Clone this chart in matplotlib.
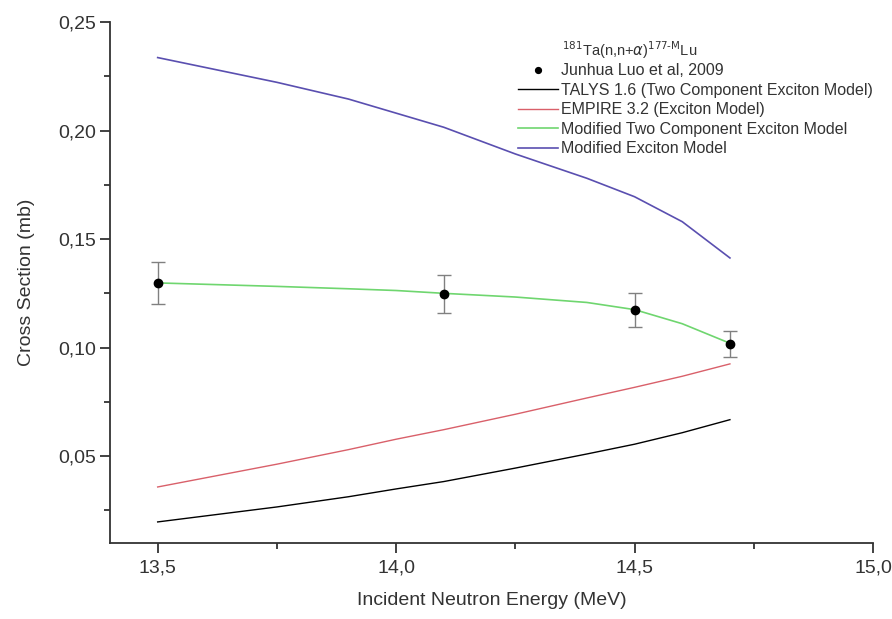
import matplotlib
matplotlib.use("Agg")
import matplotlib.pyplot as plt
from matplotlib.ticker import MultipleLocator, FuncFormatter

plt.rcParams['font.family'] = ['Liberation Sans', 'DejaVu Sans']

# Experimental data
exp_E = [13.5, 14.1, 14.5, 14.7]
exp_xs = [0.1298, 0.1248, 0.1175, 0.1016]
exp_err = [0.0098, 0.0088, 0.0078, 0.0060]

# Model curves
E_model = [13.5, 13.75, 13.9, 14.0, 14.1, 14.25, 14.4, 14.5, 14.6, 14.7]
talys = [0.0197, 0.0266, 0.0313, 0.0349, 0.0383, 0.0445, 0.0510, 0.0555, 0.0608, 0.0668]
empire = [0.0358, 0.0463, 0.0530, 0.0578, 0.0622, 0.0693, 0.0768, 0.0817, 0.0868, 0.0925]
mod_two = [0.1298, 0.1282, 0.1271, 0.1263, 0.1250, 0.1233, 0.1208, 0.1175, 0.1110, 0.1020]
mod_exc = [0.2336, 0.2222, 0.2145, 0.2080, 0.2015, 0.1892, 0.1780, 0.1695, 0.1580, 0.1413]

fig = plt.figure(figsize=(8.92, 6.19), dpi=100)
ax = fig.add_axes([0.1233, 0.1228, 0.8554, 0.8417])

ax.plot(E_model, talys, color='black', lw=1.0, label='TALYS 1.6 (Two Component Exciton Model)')
ax.plot(E_model, empire, color='#d9606a', lw=1.0, label='EMPIRE 3.2 (Exciton Model)')
ax.plot(E_model, mod_two, color='#6fd66f', lw=1.2, label='Modified Two Component Exciton Model')
ax.plot(E_model, mod_exc, color='#5a4fb0', lw=1.2, label='Modified Exciton Model')
ax.errorbar(exp_E, exp_xs, yerr=exp_err, fmt='none', ecolor='#808080', elinewidth=1.0, capsize=5, capthick=1.0)
ax.plot(exp_E, exp_xs, 'o', color='black', ms=6, label='Junhua Luo et al, 2009')

ax.set_xlim(13.4, 15.0)
ax.set_ylim(0.01, 0.25)
ax.xaxis.set_major_locator(MultipleLocator(0.5))
ax.xaxis.set_minor_locator(MultipleLocator(0.25))
ax.yaxis.set_major_locator(MultipleLocator(0.05))
ax.yaxis.set_minor_locator(MultipleLocator(0.025))
ax.xaxis.set_major_formatter(FuncFormatter(lambda v, p: f"{v:.1f}".replace('.', ',')))
ax.yaxis.set_major_formatter(FuncFormatter(lambda v, p: f"{v:.2f}".replace('.', ',')))
for s in ['top', 'right']:
    ax.spines[s].set_visible(False)
for s in ['left', 'bottom']:
    ax.spines[s].set_color('#333333')
    ax.spines[s].set_linewidth(1.3)
ax.tick_params(which='major', direction='out', length=7, width=1.3, labelsize=14, colors='#333333')
ax.tick_params(axis='x', which='major', pad=5)
ax.tick_params(axis='y', which='major', pad=3)
ax.tick_params(which='minor', direction='out', length=4, width=1.3, colors='#333333')
ax.set_xlabel('Incident Neutron Energy (MeV)', fontsize=14, color='#333333', labelpad=11)
ax.set_ylabel('Cross Section (mb)', fontsize=14, color='#333333', labelpad=17)

h, l = ax.get_legend_handles_labels()
order = [4, 0, 1, 2, 3]
leg = ax.legend([h[i] for i in order], [l[i] for i in order], loc='upper left',
                bbox_to_anchor=(0.527, 0.933), borderaxespad=0, frameon=False, fontsize=11.5,
                handlelength=2.45, handletextpad=0.2, labelspacing=0.28, markerscale=0.7)
for t in leg.get_texts():
    t.set_color('#333333')
fig.text(0.630, 0.919, r'$^{181}$Ta(n,n+$\alpha$)$^{177\text{-M}}$Lu', fontsize=10.5,
         color='#333333', va='center')

fig.savefig('out.png', dpi=100)
